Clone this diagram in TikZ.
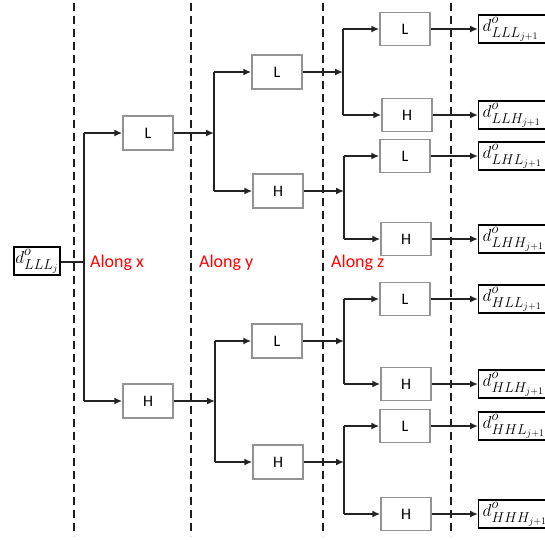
\documentclass[tikz,border=0pt]{standalone}
\usepackage{fontspec}
\setmainfont{Carlito}
\DeclareMathSizes{19}{19}{14}{10}
\usetikzlibrary{arrows.meta}
\newcommand{\dlab}[2]{$d^{\raisebox{2.5pt}{$\scriptstyle o$}}_{#1_{#2}}$}
\begin{document}
\begin{tikzpicture}[x=1pt,y=-1pt,
  conn/.style={line width=2.1pt,draw={rgb,255:red,35;green,35;blue,35}},
  arr/.style={conn,-{Latex[length=8pt,width=7pt]}},
  sep/.style={line width=2.2pt,dash pattern=on 8pt off 5pt,draw={rgb,255:red,30;green,30;blue,30}},
  filt/.style={draw=gray!85,line width=1.5pt,minimum width=50pt,minimum height=34pt,inner sep=0pt,font=\fontsize{16}{17}\selectfont,fill=white},
  outb/.style={draw=black,line width=1.4pt,minimum width=80pt,minimum height=28pt,anchor=west,inner xsep=4pt,inner ysep=0pt,text width=72pt,align=left,font=\fontsize{19}{20}\selectfont},
  inb/.style={draw=black,line width=1.4pt,minimum width=46pt,minimum height=28pt,inner sep=0pt,font=\fontsize{19}{20}\selectfont},
  lab/.style={text=red,anchor=base west,inner sep=0pt,font=\fontsize{18}{20}\selectfont}]
\useasboundingbox (0,0) rectangle (545,539);
\clip (0,0) rectangle (545,539);
% separators
\foreach \xx in {74,191,323,451} \draw[sep] (\xx,3) -- (\xx,536);
% labels
\node[lab] (lx) at (90,267) {Along x};
\node[lab] (ly) at (199,267) {Along y};
\node[lab] (lz) at (331,267) {Along z};
% input
\node[inb] (in) at (37,261) {\dlab{LLL}{j}};
% level 1
\coordinate (s1) at (84,262);
\node[filt] (L1) at (148,133) {L};
\node[filt] (H1) at (148,401) {H};
% level 2
\coordinate (s2a) at (214,133);
\coordinate (s2b) at (215,401);
\node[filt] (L2a) at (277,72) {L};
\node[filt] (H2a) at (278,191) {H};
\node[filt] (L2b) at (277,341) {L};
\node[filt] (H2b) at (278,462) {H};
% level 3
\coordinate (s3a) at (343,72);
\coordinate (s3b) at (344,191);
\coordinate (s3c) at (344,341);
\coordinate (s3d) at (344,462);
\node[filt,minimum height=33pt] (L3a) at (405,29) {L};
\node[filt,minimum height=33pt] (H3a) at (407,115) {H};
\node[filt,minimum height=33pt] (L3b) at (405,156) {L};
\node[filt,minimum height=33pt] (H3b) at (406,239) {H};
\node[filt,minimum height=33pt] (L3c) at (405,299) {L};
\node[filt,minimum height=33pt] (H3c) at (406,384) {H};
\node[filt,minimum height=33pt] (L3d) at (405,426) {L};
\node[filt,minimum height=33pt] (H3d) at (406,514) {H};
% outputs
\node[outb] (o1) at (478,29) {\dlab{LLL}{j+1}};
\node[outb] (o2) at (478,115) {\dlab{LLH}{j+1}};
\node[outb] (o3) at (478,156) {\dlab{LHL}{j+1}};
\node[outb] (o4) at (478,239) {\dlab{LHH}{j+1}};
\node[outb] (o5) at (478,299) {\dlab{HLL}{j+1}};
\node[outb] (o6) at (478,384) {\dlab{HLH}{j+1}};
\node[outb] (o7) at (478,426) {\dlab{HHL}{j+1}};
\node[outb] (o8) at (478,514) {\dlab{HHH}{j+1}};
% connectors level 1
\draw[conn] (in.east |- s1) -- (s1);
\draw[conn] (s1 |- L1) -- (s1 |- H1);
\draw[arr] (s1 |- L1) -- (L1.west);
\draw[arr] (s1 |- H1) -- (H1.west);
% level 2
\draw[arr] (L1.east) -- (s2a);
\draw[arr] (H1.east) -- (s2b);
\draw[conn] (s2a |- L2a) -- (s2a |- H2a);
\draw[conn] (s2b |- L2b) -- (s2b |- H2b);
\draw[arr] (s2a |- L2a) -- (L2a.west);
\draw[arr] (s2a |- H2a) -- (H2a.west);
\draw[arr] (s2b |- L2b) -- (L2b.west);
\draw[arr] (s2b |- H2b) -- (H2b.west);
% level 3
\draw[arr] (L2a.east) -- (s3a);
\draw[arr] (H2a.east) -- (s3b);
\draw[arr] (L2b.east) -- (s3c);
\draw[arr] (H2b.east) -- (s3d);
\foreach \s/\l/\h in {s3a/L3a/H3a,s3b/L3b/H3b,s3c/L3c/H3c,s3d/L3d/H3d}{
  \draw[conn] (\s |- \l) -- (\s |- \h);
  \draw[arr] (\s |- \l) -- (\l.west);
  \draw[arr] (\s |- \h) -- (\h.west);
}
% outputs
\draw[arr] (L3a.east) -- (o1.west);
\draw[arr] (H3a.east) -- (o2.west);
\draw[arr] (L3b.east) -- (o3.west);
\draw[arr] (H3b.east) -- (o4.west);
\draw[arr] (L3c.east) -- (o5.west);
\draw[arr] (H3c.east) -- (o6.west);
\draw[arr] (L3d.east) -- (o7.west);
\draw[arr] (H3d.east) -- (o8.west);
\end{tikzpicture}
\end{document}
